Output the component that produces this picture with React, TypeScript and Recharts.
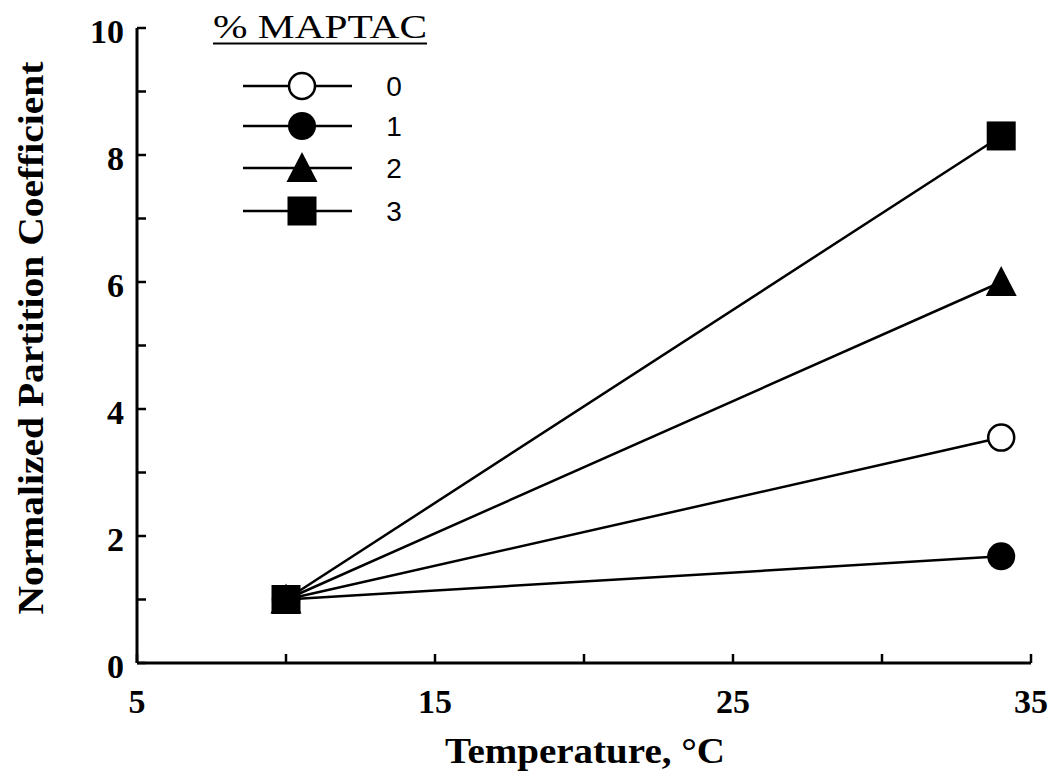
import React from 'react';
import { LineChart, Line, XAxis, YAxis, Legend, Label } from 'recharts';

// ---- data ----
const temperatures = [10, 34];
const maptac0 = [1.0, 3.55];
const maptac1 = [1.0, 1.68];
const maptac2 = [1.0, 6.0];
const maptac3 = [1.0, 8.3];
const seriesLabels = ['0', '1', '2', '3'];
const seriesKeys = ['m0', 'm1', 'm2', 'm3'];
const seriesShapes = ['openCircle', 'filledCircle', 'triangle', 'square'];
const xTicks = [5, 10, 15, 20, 25, 30, 35];
const xTickLabels = [5, 15, 25, 35];
const yTicks = [0, 1, 2, 3, 4, 5, 6, 7, 8, 9, 10];
const yTickLabels = [0, 2, 4, 6, 8, 10];
const legendTitle = '% MAPTAC';
const xTitle = 'Temperature, °C';
const yTitle = 'Normalized Partition Coefficient';

const data = temperatures.map((t, i) => ({
  t,
  m0: maptac0[i],
  m1: maptac1[i],
  m2: maptac2[i],
  m3: maptac3[i],
}));

const SERIF = "'Liberation Serif', 'Times New Roman', serif";

function Marker({ shape, cx, cy }: { shape: string; cx: number; cy: number }) {
  if (cx == null || cy == null) return null;
  if (shape === 'openCircle')
    return <circle cx={cx} cy={cy} r={13} fill="#fff" stroke="#000" strokeWidth={2.5} />;
  if (shape === 'filledCircle')
    return <circle cx={cx} cy={cy} r={14} fill="#000" stroke="none" />;
  if (shape === 'triangle')
    return (
      <polygon
        points={`${cx},${cy - 16} ${cx - 15.5},${cy + 14} ${cx + 15.5},${cy + 14}`}
        fill="#000"
      />
    );
  return <rect x={cx - 14.5} y={cy - 14.5} width={29} height={29} fill="#000" />;
}

function XTick(props: any) {
  const { x, y, payload } = props;
  const v = payload.value;
  return (
    <g>
      <line x1={x} x2={x} y1={y} y2={y - 9} stroke="#000" strokeWidth={2.5} />
      {xTickLabels.includes(v) && (
        <text
          x={x}
          y={y + 50}
          textAnchor="middle"
          fontFamily={SERIF}
          fontWeight="bold"
          fontSize={34}
          fill="#000"
        >
          {v}
        </text>
      )}
    </g>
  );
}

function YTick(props: any) {
  const { x, y, payload } = props;
  const v = payload.value;
  return (
    <g>
      <line x1={x} x2={x + 9} y1={y} y2={y} stroke="#000" strokeWidth={2.5} />
      {yTickLabels.includes(v) && (
        <text
          x={x - 13}
          y={y + 15}
          textAnchor="end"
          fontFamily={SERIF}
          fontWeight="bold"
          fontSize={34}
          fill="#000"
        >
          {v}
        </text>
      )}
    </g>
  );
}

function LegendContent() {
  const rows = [86, 126, 168, 211];
  return (
    <svg width={460} height={240} style={{ display: 'block' }}>
      <text
        x={213}
        y={38}
        fontFamily={SERIF}
        fontSize={34}
        fill="#000"
        textLength={214}
        lengthAdjust="spacingAndGlyphs"
      >
        {legendTitle}
      </text>
      <line x1={213} x2={427} y1={43.5} y2={43.5} stroke="#000" strokeWidth={1.8} />
      {seriesLabels.map((lab, i) => (
        <g key={lab}>
          <line x1={243} x2={352} y1={rows[i]} y2={rows[i]} stroke="#000" strokeWidth={2.5} />
          <Marker shape={seriesShapes[i]} cx={302} cy={rows[i]} />
          <text
            x={394}
            y={rows[i] + 10}
            textAnchor="middle"
            fontFamily="'Liberation Sans', Arial, sans-serif"
            fontSize={28}
            fill="#000"
          >
            {lab}
          </text>
        </g>
      ))}
    </svg>
  );
}

function XTitle(props: any) {
  const vb = props.viewBox;
  const cx = vb.x + vb.width / 2;
  return (
    <text
      x={585}
      y={763}
      textAnchor="middle"
      fontFamily={SERIF}
      fontWeight="bold"
      fontSize={36}
      fill="#000"
      textLength={280}
      lengthAdjust="spacingAndGlyphs"
    >
      {xTitle}
    </text>
  );
}

function YTitle(props: any) {
  const cx = 43;
  const cy = 338;
  return (
    <text
      x={cx}
      y={cy}
      transform={`rotate(-90 ${cx} ${cy})`}
      textAnchor="middle"
      fontFamily={SERIF}
      fontWeight="bold"
      fontSize={36}
      fill="#000"
      textLength={553}
      lengthAdjust="spacingAndGlyphs"
    >
      {yTitle}
    </text>
  );
}

export default function App() {
  return (
    <div style={{ position: 'absolute', left: 0, top: 0, width: 1053, height: 783, background: '#fff' }}>
      <LineChart
        width={1053}
        height={783}
        data={data}
        margin={{ top: 28, right: 22, left: 0, bottom: 0 }}
      >
        <XAxis
          dataKey="t"
          type="number"
          domain={[5, 35]}
          ticks={xTicks}
          interval={0}
          tickSize={0}
          tickMargin={0}
          tickLine={false}
          tick={<XTick />}
          axisLine={{ stroke: '#000', strokeWidth: 3 }}
          height={120}
          allowDataOverflow
        >
          <Label content={<XTitle />} />
        </XAxis>
        <YAxis
          type="number"
          domain={[0, 10]}
          ticks={yTicks}
          interval={0}
          tickSize={0}
          tickMargin={0}
          tickLine={false}
          tick={<YTick />}
          axisLine={{ stroke: '#000', strokeWidth: 3 }}
          width={137}
          allowDataOverflow
        >
          <Label content={<YTitle />} />
        </YAxis>
        <Legend
          layout="vertical"
          align="center"
          verticalAlign="middle"
          content={<LegendContent />}
          wrapperStyle={{ left: 0, top: 0, width: 460, height: 240 }}
        />
        {seriesKeys.map((k, i) => (
          <Line
            key={k}
            dataKey={k}
            name={seriesLabels[i]}
            stroke="#000"
            strokeWidth={2.5}
            isAnimationActive={false}
            activeDot={false}
            dot={(p: any) => <Marker key={`${k}-${p.index}`} shape={seriesShapes[i]} cx={p.cx} cy={p.cy} />}
          />
        ))}
      </LineChart>
    </div>
  );
}
